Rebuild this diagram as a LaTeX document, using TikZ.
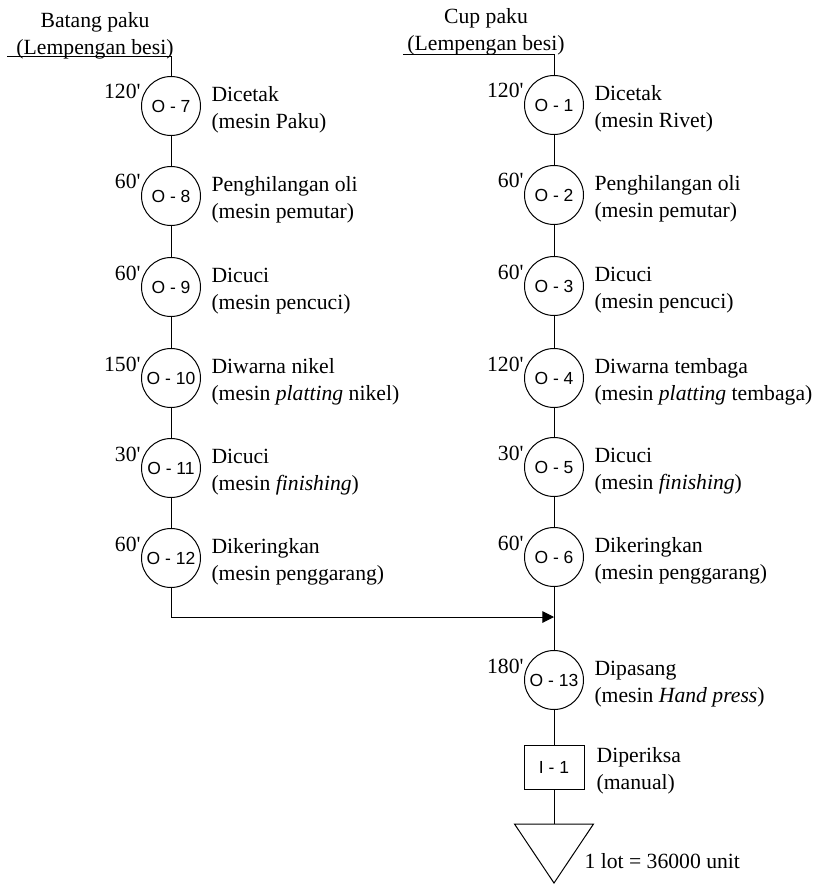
\documentclass[tikz,border=0pt]{standalone}
\usepackage{fontspec}
\setmainfont{Liberation Serif}
\newfontfamily\opfont{Liberation Sans}
\usetikzlibrary{arrows.meta}

\tikzstyle{every node}=[inner sep=0pt, font={\fontsize{13}{16.3}\selectfont}]
\tikzstyle{op}=[draw, circle, minimum size=35.4pt, font={\opfont\fontsize{10.5}{12}\selectfont}]
\tikzstyle{insp}=[draw, rectangle, minimum width=36pt, minimum height=26.4pt, font={\opfont\fontsize{10.5}{12}\selectfont}]
\tikzstyle{time}=[anchor=base east]
\tikzstyle{desc}=[anchor=west, align=left]
\tikzstyle{title}=[align=center]

\begin{document}
\begin{tikzpicture}[x=0.6pt, y=-0.6pt, line width=0.6pt]
    \useasboundingbox (0,0) rectangle (818,885);

    % batang paku
    \node [title] (srcA) at (95,36) {Batang paku\\(Lempengan besi)};
    \coordinate (inA) at (7,57);
    \node [op] (o7) at (171,106) {O - 7};
    \node [op] (o8) at (171,196) {O - 8};
    \node [op] (o9) at (171,287) {O - 9};
    \node [op] (o10) at (171,378) {O - 10};
    \node [op] (o11) at (171,468) {O - 11};
    \node [op] (o12) at (171,558) {O - 12};

    \node [time] (t7) at ([yshift=4.2pt]o7.west) {120\textquotesingle};
    \node [time] (t8) at ([yshift=4.2pt]o8.west) {60\textquotesingle};
    \node [time] (t9) at ([yshift=4.2pt]o9.west) {60\textquotesingle};
    \node [time] (t10) at ([yshift=4.2pt]o10.west) {150\textquotesingle};
    \node [time] (t11) at ([yshift=4.2pt]o11.west) {30\textquotesingle};
    \node [time] (t12) at ([yshift=4.2pt]o12.west) {60\textquotesingle};

    \node [desc] (d7) at ([xshift=6pt,yshift=-2.4pt]o7.east) {Dicetak\\(mesin Paku)};
    \node [desc] (d8) at ([xshift=6pt,yshift=-2.4pt]o8.east) {Penghilangan oli\\(mesin pemutar)};
    \node [desc] (d9) at ([xshift=6pt,yshift=-2.4pt]o9.east) {Dicuci\\(mesin pencuci)};
    \node [desc] (d10) at ([xshift=6pt,yshift=-2.4pt]o10.east) {Diwarna nikel\\(mesin \textit{platting} nikel)};
    \node [desc] (d11) at ([xshift=6pt,yshift=-2.4pt]o11.east) {Dicuci\\(mesin \textit{finishing})};
    \node [desc] (d12) at ([xshift=6pt,yshift=-2.4pt]o12.east) {Dikeringkan\\(mesin penggarang)};

    % cup paku
    \node [title] (srcB) at (486,32) {Cup paku\\(Lempengan besi)};
    \coordinate (inB) at (403,55);
    \node [op] (o1) at (554,105) {O - 1};
    \node [op] (o2) at (554,195) {O - 2};
    \node [op] (o3) at (554,286) {O - 3};
    \node [op] (o4) at (554,378) {O - 4};
    \node [op] (o5) at (554,467) {O - 5};
    \node [op] (o6) at (554,557) {O - 6};

    \node [time] (t1) at ([yshift=4.2pt]o1.west) {120\textquotesingle};
    \node [time] (t2) at ([yshift=4.2pt]o2.west) {60\textquotesingle};
    \node [time] (t3) at ([yshift=4.2pt]o3.west) {60\textquotesingle};
    \node [time] (t4) at ([yshift=4.2pt]o4.west) {120\textquotesingle};
    \node [time] (t5) at ([yshift=4.2pt]o5.west) {30\textquotesingle};
    \node [time] (t6) at ([yshift=4.2pt]o6.west) {60\textquotesingle};

    \node [desc] (d1) at ([xshift=6pt,yshift=-2.4pt]o1.east) {Dicetak\\(mesin Rivet)};
    \node [desc] (d2) at ([xshift=6pt,yshift=-2.4pt]o2.east) {Penghilangan oli\\(mesin pemutar)};
    \node [desc] (d3) at ([xshift=6pt,yshift=-2.4pt]o3.east) {Dicuci\\(mesin pencuci)};
    \node [desc] (d4) at ([xshift=6pt,yshift=-2.4pt]o4.east) {Diwarna tembaga\\(mesin \textit{platting} tembaga)};
    \node [desc] (d5) at ([xshift=6pt,yshift=-2.4pt]o5.east) {Dicuci\\(mesin \textit{finishing})};
    \node [desc] (d6) at ([xshift=6pt,yshift=-2.4pt]o6.east) {Dikeringkan\\(mesin penggarang)};

    % perakitan
    \coordinate (join) at (554,617);
    \node [op] (o13) at (554,680) {O - 13};
    \node [time] (t13) at ([yshift=4.2pt]o13.west) {180\textquotesingle};
    \node [desc] (d13) at ([xshift=6pt,yshift=-2.4pt]o13.east) {Dipasang\\(mesin \textit{Hand press})};
    \node [insp] (i1) at (554,767) {I - 1};
    \node [desc] (di1) at ([xshift=7pt,yshift=-2.4pt]i1.east) {Diperiksa\\(manual)};
    \coordinate (store) at (554,824);
    \node [anchor=base west] (lot) at (584,868) {1 lot = 36000 unit};

    \draw (inA) -| (o7.north);
    \draw (o7) -- (o8) -- (o9) -- (o10) -- (o11) -- (o12);
    \draw (inB) -| (o1.north);
    \draw (o1) -- (o2) -- (o3) -- (o4) -- (o5) -- (o6) -- (o13) -- (i1) -- (store);
    \draw [-{Triangle[length=7pt,width=7pt]}] (o12) |- (join);
    \draw (store) -- ++(-39.5,0) -- ++(39.5,59) -- ++(39.5,-59) -- cycle;
\end{tikzpicture}
\end{document}
